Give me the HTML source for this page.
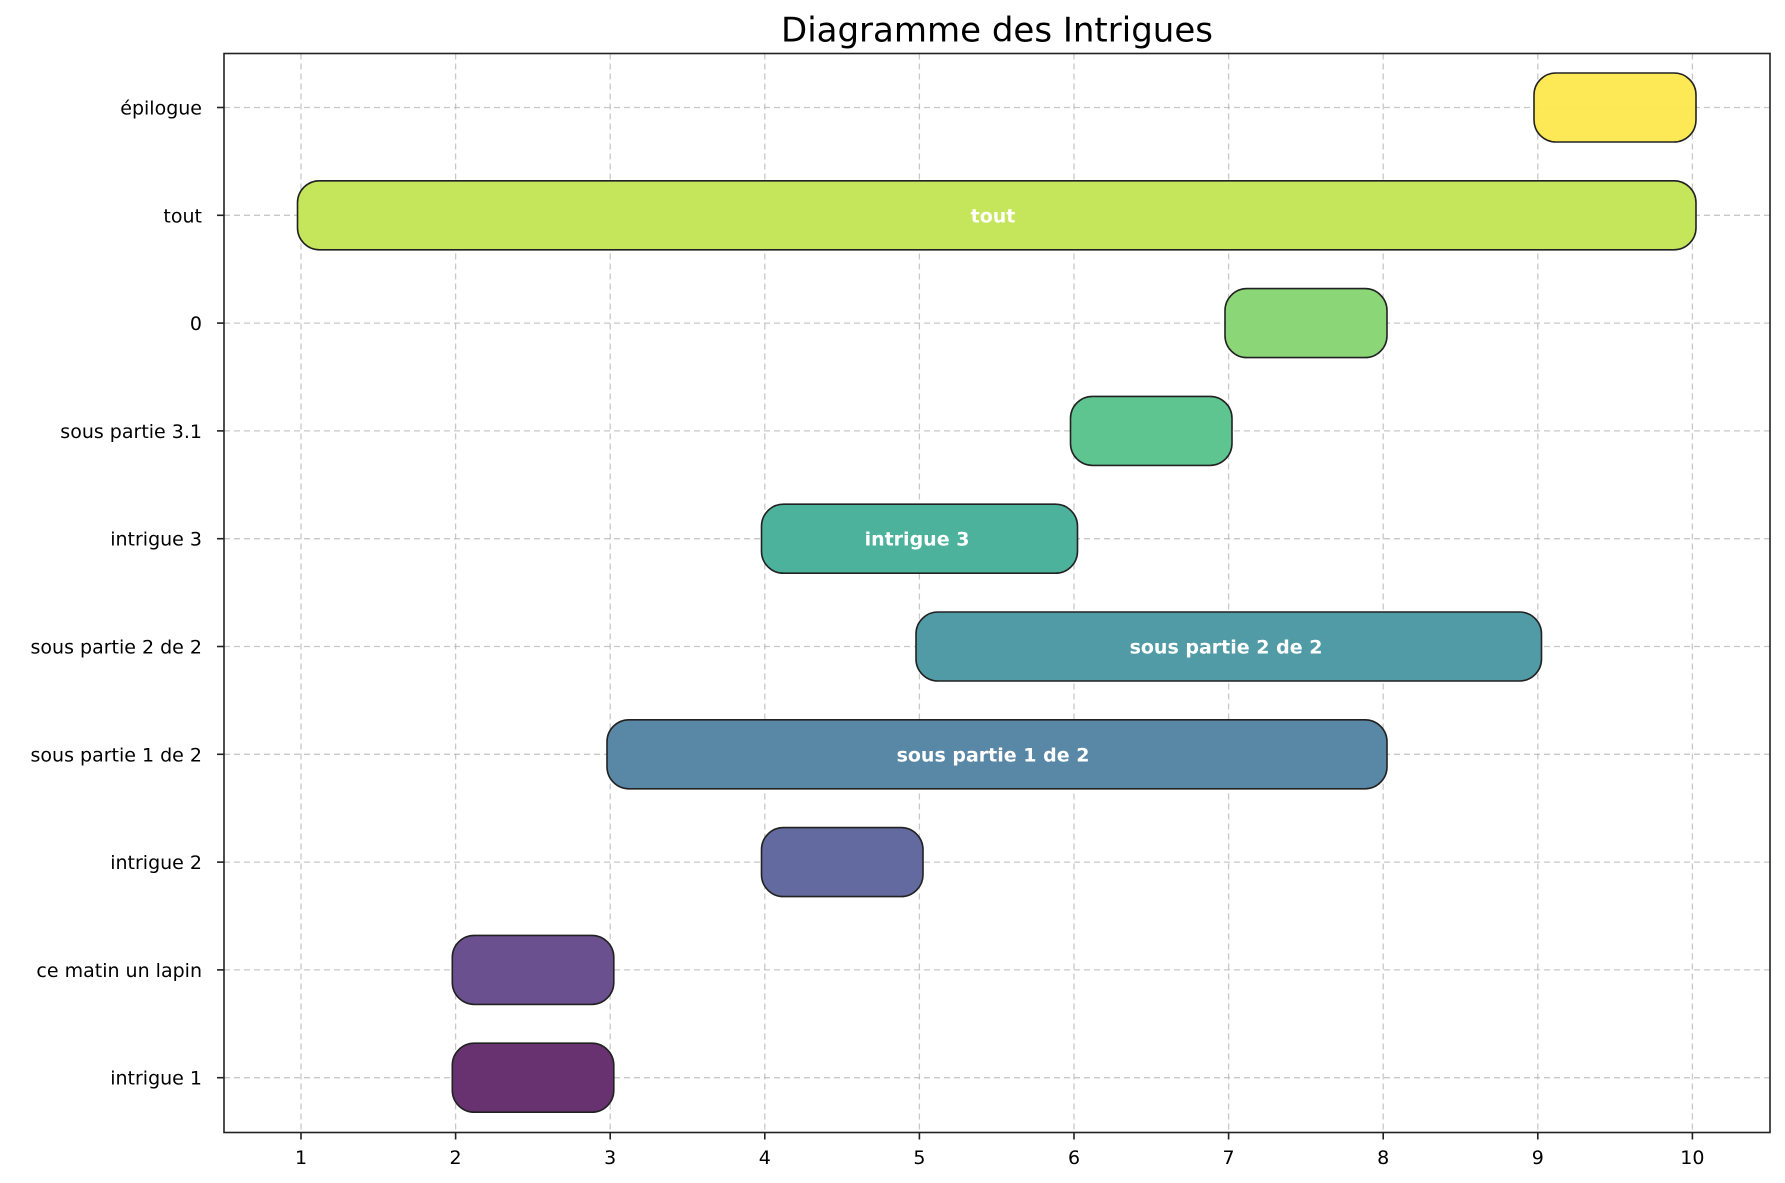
<!DOCTYPE html>
<html><head><meta charset="utf-8"><style>
html,body{margin:0;padding:0;background:#fff}
svg{display:block}
text{font-family:"DejaVu Sans","Liberation Sans",sans-serif}
</style></head><body>
<svg width="1785" height="1183" viewBox="0 0 1785 1183" xmlns="http://www.w3.org/2000/svg">
<rect width="1785" height="1183" fill="#fff"/>
<text x="997" y="41.5" font-size="34" text-anchor="middle" fill="#000">Diagramme des Intrigues</text>
<g stroke="#b0b0b0" stroke-opacity="0.7" stroke-width="1.3" stroke-dasharray="6,4" fill="none">
<line x1="301" y1="53.5" x2="301" y2="1132.5"/>
<line x1="455.6" y1="53.5" x2="455.6" y2="1132.5"/>
<line x1="610.2" y1="53.5" x2="610.2" y2="1132.5"/>
<line x1="764.8" y1="53.5" x2="764.8" y2="1132.5"/>
<line x1="919.4" y1="53.5" x2="919.4" y2="1132.5"/>
<line x1="1074" y1="53.5" x2="1074" y2="1132.5"/>
<line x1="1228.6" y1="53.5" x2="1228.6" y2="1132.5"/>
<line x1="1383.2" y1="53.5" x2="1383.2" y2="1132.5"/>
<line x1="1537.8" y1="53.5" x2="1537.8" y2="1132.5"/>
<line x1="1692.4" y1="53.5" x2="1692.4" y2="1132.5"/>
<line x1="224" y1="107.5" x2="1770" y2="107.5"/>
<line x1="224" y1="215.3" x2="1770" y2="215.3"/>
<line x1="224" y1="323.1" x2="1770" y2="323.1"/>
<line x1="224" y1="430.9" x2="1770" y2="430.9"/>
<line x1="224" y1="538.7" x2="1770" y2="538.7"/>
<line x1="224" y1="646.5" x2="1770" y2="646.5"/>
<line x1="224" y1="754.3" x2="1770" y2="754.3"/>
<line x1="224" y1="862.1" x2="1770" y2="862.1"/>
<line x1="224" y1="969.9" x2="1770" y2="969.9"/>
<line x1="224" y1="1077.7" x2="1770" y2="1077.7"/>
</g>
<g stroke="#222" stroke-width="1.6">
<rect x="1534" y="73" width="162" height="69" rx="22" fill="#fde74c" fill-opacity="0.95"/>
<rect x="297.5" y="180.8" width="1398.5" height="69" rx="22" fill="#c5e55a"/>
<rect x="1225" y="288.6" width="162" height="69" rx="22" fill="#8bd676"/>
<rect x="1070.5" y="396.4" width="161.5" height="69" rx="22" fill="#5ec590"/>
<rect x="761.5" y="504.2" width="316" height="69" rx="22" fill="#4cb29c"/>
<rect x="916" y="612" width="625.5" height="69" rx="22" fill="#509ba5"/>
<rect x="607" y="719.8" width="780" height="69" rx="22" fill="#5987a6"/>
<rect x="761.5" y="827.6" width="161.5" height="69" rx="22" fill="#626a9f"/>
<rect x="452.3" y="935.4" width="161.5" height="69" rx="22" fill="#6b508f"/>
<rect x="452.3" y="1043.2" width="161.5" height="69" rx="22" fill="#67326f"/>
</g>
<g fill="#fff" font-size="19" font-weight="bold" text-anchor="middle">
<text x="993" y="222.3">tout</text>
<text x="917" y="545.7">intrigue 3</text>
<text x="1226" y="653.5">sous partie 2 de 2</text>
<text x="993" y="761.3">sous partie 1 de 2</text>
</g>
<rect x="224" y="53.5" width="1546" height="1079" fill="none" stroke="#222" stroke-width="1.6"/>
<g stroke="#222" stroke-width="1.6">
<line x1="217" y1="107.5" x2="224" y2="107.5"/>
<line x1="217" y1="215.3" x2="224" y2="215.3"/>
<line x1="217" y1="323.1" x2="224" y2="323.1"/>
<line x1="217" y1="430.9" x2="224" y2="430.9"/>
<line x1="217" y1="538.7" x2="224" y2="538.7"/>
<line x1="217" y1="646.5" x2="224" y2="646.5"/>
<line x1="217" y1="754.3" x2="224" y2="754.3"/>
<line x1="217" y1="862.1" x2="224" y2="862.1"/>
<line x1="217" y1="969.9" x2="224" y2="969.9"/>
<line x1="217" y1="1077.7" x2="224" y2="1077.7"/>
<line x1="301" y1="1132.5" x2="301" y2="1139.5"/>
<line x1="455.6" y1="1132.5" x2="455.6" y2="1139.5"/>
<line x1="610.2" y1="1132.5" x2="610.2" y2="1139.5"/>
<line x1="764.8" y1="1132.5" x2="764.8" y2="1139.5"/>
<line x1="919.4" y1="1132.5" x2="919.4" y2="1139.5"/>
<line x1="1074" y1="1132.5" x2="1074" y2="1139.5"/>
<line x1="1228.6" y1="1132.5" x2="1228.6" y2="1139.5"/>
<line x1="1383.2" y1="1132.5" x2="1383.2" y2="1139.5"/>
<line x1="1537.8" y1="1132.5" x2="1537.8" y2="1139.5"/>
<line x1="1692.4" y1="1132.5" x2="1692.4" y2="1139.5"/>
</g>
<g fill="#000" font-size="19" text-anchor="end">
<text x="202" y="114.5">épilogue</text>
<text x="202" y="222.3">tout</text>
<text x="202" y="330.1">0</text>
<text x="202" y="437.9">sous partie 3.1</text>
<text x="202" y="545.7">intrigue 3</text>
<text x="202" y="653.5">sous partie 2 de 2</text>
<text x="202" y="761.3">sous partie 1 de 2</text>
<text x="202" y="869.1">intrigue 2</text>
<text x="202" y="976.9">ce matin un lapin</text>
<text x="202" y="1084.7">intrigue 1</text>
</g>
<g fill="#000" font-size="19" text-anchor="middle">
<text x="301" y="1164">1</text>
<text x="455.6" y="1164">2</text>
<text x="610.2" y="1164">3</text>
<text x="764.8" y="1164">4</text>
<text x="919.4" y="1164">5</text>
<text x="1074" y="1164">6</text>
<text x="1228.6" y="1164">7</text>
<text x="1383.2" y="1164">8</text>
<text x="1537.8" y="1164">9</text>
<text x="1692.4" y="1164">10</text>
</g>
</svg>
</body></html>
